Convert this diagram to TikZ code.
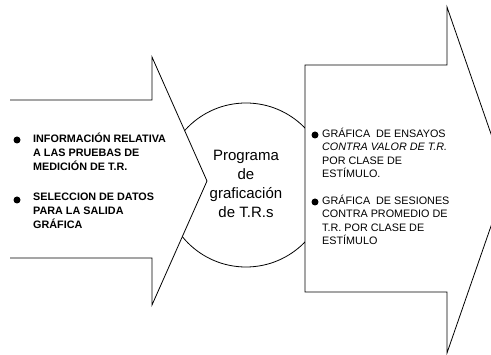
\documentclass[tikz,border=0pt]{standalone}
\usepackage{fontspec}
\setmainfont{Liberation Sans}
\usetikzlibrary{positioning}

\begin{document}
\begin{tikzpicture}[
  x=1pt, y=-1pt,
  outline/.style={draw, line width=0.8pt, line join=miter},
  dot/.style={circle, fill, inner sep=0pt, minimum size=7pt},
  lefttxt/.style={anchor=north west, inner sep=0pt, align=left,
                  font=\fontsize{10.8}{13.8}\selectfont\bfseries},
  righttxt/.style={anchor=north west, inner sep=0pt, align=left,
                   font=\fontsize{10.8}{13.4}\selectfont},
  progtxt/.style={align=center, inner sep=0pt,
                  font=\fontsize{15}{19}\selectfont},
]
  \useasboundingbox (0,0) rectangle (491,355);
  \clip (0,0) rectangle (491,355);

  %% ── Programa (circle) ──
  \node[outline, circle, minimum size=164pt] (prog) at (246,185) {};
  \node[progtxt] (progname) at (246,184)
    {Programa\\de\\graficación\\de T.R.s};

  %% ── Entrada (left arrow) ──
  \fill[white] (10,100) -- (152,100) -- (152,57) -- (207,181)
    -- (152,305) -- (152,258) -- (10,258) -- cycle;
  \draw[outline] (10,100) -- (152,100) -- (152,57) -- (207,181)
    -- (152,305) -- (152,258) -- (10,258);

  \node[dot] (inb1) at (17,140) {};
  \node[lefttxt] (in1) at (33,133)
    {INFORMACIÓN RELATIVA\\A LAS PRUEBAS DE\\MEDICIÓN DE T.R.};
  \node[dot] (inb2) at (17,200) {};
  \node[lefttxt] (in2) at (33,193)
    {SELECCION DE DATOS\\PARA LA SALIDA\\GRÁFICA};

  %% ── Salida (right arrow) ──
  \draw[outline, fill=white] (447,7) -- (507,180) -- (447,353)
    -- (447,292) -- (305,292) -- (305,65) -- (447,65) -- cycle;

  \node[dot] (outb1) at (315,135) {};
  \node[righttxt] (out1) at (322,128)
    {GRÁFICA\ \ DE ENSAYOS\\\textit{CONTRA VALOR DE T.R.}\\POR CLASE DE\\ESTÍMULO.};
  \node[dot] (outb2) at (315,202) {};
  \node[righttxt] (out2) at (322,195)
    {GRÁFICA\ \ DE SESIONES\\CONTRA PROMEDIO DE\\T.R. POR CLASE DE\\ESTÍMULO};
\end{tikzpicture}
\end{document}
